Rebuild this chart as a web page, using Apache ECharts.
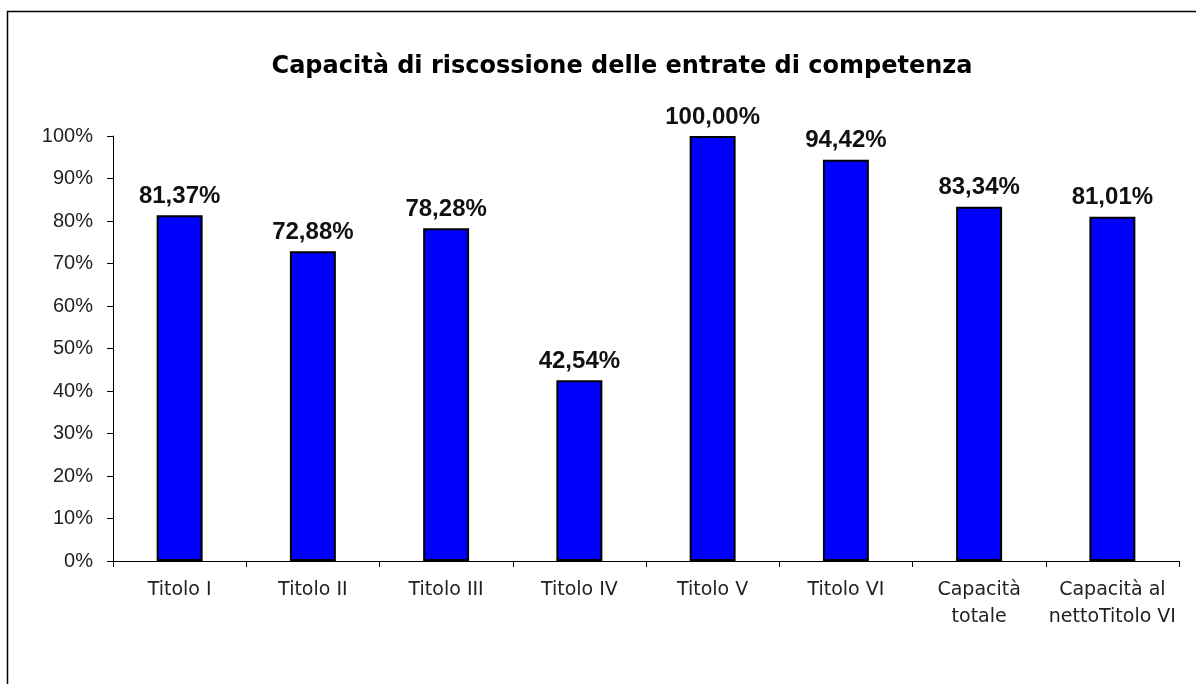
<!DOCTYPE html>
<html>
<head>
<meta charset="utf-8">
<script src="https://cdn.jsdelivr.net/npm/echarts@6/dist/echarts.min.js"></script>
<style>
  html, body { margin: 0; padding: 0; background: #fff; }
  #chart { width: 1196px; height: 684px; }
</style>
</head>
<body>
<div id="chart"></div>
<script>
const categories = ['Titolo I', 'Titolo II', 'Titolo III', 'Titolo IV', 'Titolo V', 'Titolo VI', 'Capacità\ntotale', 'Capacità al\nnettoTitolo VI']
const values = [81.37, 72.88, 78.28, 42.54, 100.00, 94.42, 83.34, 81.01]
const yTicks = [0, 10, 20, 30, 40, 50, 60, 70, 80, 90, 100]

const myChart = echarts.init(document.getElementById('chart'))
const option = {
  animation: false,
  backgroundColor: '#fff',
  graphic: [{
    type: 'rect',
    shape: { x: 7.5, y: 11.5, width: 1300, height: 800 },
    style: { fill: 'none', stroke: '#000', lineWidth: 1.5 },
    silent: true
  }],
  title: {
    text: 'Capacità di riscossione delle entrate di competenza',
    left: 617,
    textAlign: 'center',
    top: 50,
    textStyle: {
      fontFamily: 'DejaVu Sans',
      fontWeight: 'bold',
      fontSize: 24,
      color: '#000'
    }
  },
  grid: {
    left: 113,
    right: 17,
    top: 136,
    bottom: 123
  },
  xAxis: {
    type: 'category',
    data: categories,
    axisLine: { lineStyle: { color: '#000', width: 1 } },
    axisTick: { show: true, inside: false, length: 6, lineStyle: { color: '#000' } },
    axisLabel: {
      margin: 16,
      interval: 0,
      fontFamily: 'DejaVu Sans',
      fontSize: 19,
      lineHeight: 27,
      color: '#222'
    },
    splitLine: { show: false }
  },
  yAxis: {
    type: 'value',
    min: yTicks[0],
    max: yTicks[yTicks.length - 1],
    interval: 10,
    axisLine: { show: true, lineStyle: { color: '#000', width: 1 } },
    axisTick: { show: true, length: 6, lineStyle: { color: '#000' } },
    axisLabel: {
      margin: 20,
      fontFamily: 'Liberation Sans',
      fontSize: 20,
      color: '#222',
      formatter: v => v + '%'
    },
    splitLine: { show: false }
  },
  series: [{
    type: 'bar',
    data: values,
    barWidth: '34.5%',
    itemStyle: {
      color: '#0000ff',
      borderColor: '#000',
      borderWidth: 2
    },
    label: {
      show: true,
      position: 'top',
      distance: 7,
      fontFamily: 'Liberation Sans',
      fontWeight: 'bold',
      fontSize: 24,
      color: '#111',
      formatter: p => p.value.toFixed(2).replace('.', ',') + '%'
    }
  }]
}
myChart.setOption(option)
</script>
</body>
</html>
